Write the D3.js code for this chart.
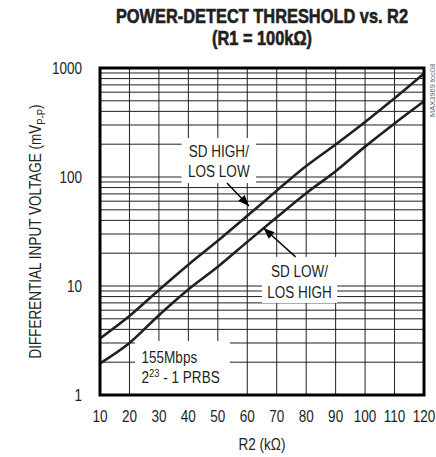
<!DOCTYPE html>
<html><head><meta charset="utf-8">
<script src="https://cdn.jsdelivr.net/npm/d3@7"></script>
<style>
html,body{margin:0;padding:0;background:#fff;}
svg{display:block;}
text{font-family:"Liberation Sans",Arial,sans-serif;fill:#231f20;}
</style></head>
<body>
<svg id="c" width="436" height="457"></svg>
<script>
// ---- data ----
const r2 = [10,20,30,40,50,60,70,80,90,100,110,120];
const sdHigh = [3.3,5.3,9.2,15.7,26,44,75,126,199,320,527,890];
const sdLow  = [1.95,3.0,5.4,9.3,15,25.4,42.7,71,113,190,310,495];
const xTicks = [10,20,30,40,50,60,70,80,90,100,110,120];
const yTicks = [1,10,100,1000];
const titleLines = ["POWER-DETECT THRESHOLD vs. R2","(R1 = 100k\u03A9)"];

const svg = d3.select("#c");
const L=100,R=424,T=68,B=395;
const x = d3.scaleLinear().domain([10,120]).range([L,R]);
const y = d3.scaleLog().domain([1,1000]).range([B,T]);
const SX=0.82; // condensed look

function txt(px,py,size,anchor,extra){
  return svg.append("text").attr("transform",`translate(${px},${py})${extra||""} scale(${SX},1)`)
    .attr("text-anchor",anchor||"start").attr("font-size",size);
}

// grid
const g = svg.append("g");
const minors=[];
[1,10,100].forEach(d=>{for(let k=1;k<=9;k++) minors.push(d*k);});
minors.push(1000);
g.selectAll("line.h").data(minors).enter().append("line")
 .attr("x1",L).attr("x2",R).attr("y1",d=>y(d)).attr("y2",d=>y(d))
 .attr("stroke","#231f20").attr("stroke-width",1);
g.selectAll("line.v").data(xTicks).enter().append("line")
 .attr("y1",T).attr("y2",B).attr("x1",d=>x(d)).attr("x2",d=>x(d))
 .attr("stroke","#231f20").attr("stroke-width",1);

// label boxes (white masks) in data coords
const boxes = [
  {x0:37.7,x1:63.0,y0:228,y1:88},
  {x0:65.0,x1:90.5,y0:18.5,y1:6.98},
  {x0:21.9,x1:54.1,y0:3.13,y1:1}
];
svg.selectAll("rect.box").data(boxes).enter().append("rect")
 .attr("x",d=>x(d.x0)).attr("y",d=>y(d.y0))
 .attr("width",d=>x(d.x1)-x(d.x0)).attr("height",d=>y(d.y1)-y(d.y0))
 .attr("fill","#fff");

// curves
const line = d3.line().x(d=>x(d[0])).y(d=>y(d[1])).curve(d3.curveMonotoneX);
[sdHigh,sdLow].forEach(s=>{
  svg.append("path").datum(r2.map((v,i)=>[v,s[i]])).attr("d",line)
   .attr("fill","none").attr("stroke","#231f20").attr("stroke-width",2.6);
});

// frame
svg.append("rect").attr("x",L).attr("y",T).attr("width",R-L).attr("height",B-T)
 .attr("fill","none").attr("stroke","#000").attr("stroke-width",3);

// arrows
svg.append("defs").append("marker").attr("id","ah").attr("viewBox","0 0 10 10")
 .attr("refX",10).attr("refY",5).attr("markerWidth",13).attr("markerHeight",11)
 .attr("markerUnits","userSpaceOnUse").attr("orient","auto")
 .append("path").attr("d","M0,1 L10,5 L0,9 z").attr("fill","#000");
const arrows=[
  {x0:53.1,y0:88.1,x1:60.6,y1:54.2},
  {x0:76.4,y0:18.5,x1:65.5,y1:34.0}
];
svg.selectAll("line.ar").data(arrows).enter().append("line")
 .attr("x1",d=>x(d.x0)).attr("y1",d=>y(d.y0)).attr("x2",d=>x(d.x1)).attr("y2",d=>y(d.y1))
 .attr("stroke","#000").attr("stroke-width",1.4).attr("marker-end","url(#ah)");

// labels
const fs=16.5;
const b0=boxes[0],b1=boxes[1],b2=boxes[2];
["SD HIGH/","LOS LOW"].forEach((t,i)=>txt((x(b0.x0)+x(b0.x1))/2, y(b0.y0)+18.7+i*20,fs,"middle").text(t));
["SD LOW/","LOS HIGH"].forEach((t,i)=>txt((x(b1.x0)+x(b1.x1))/2, y(b1.y0)+20+i*21,fs,"middle").text(t));
txt(x(b2.x0)+6.5, y(b2.y0)+22.3, fs).text("155Mbps");
const t3=txt(x(b2.x0)+6.5, y(b2.y0)+42.3, fs);
t3.append("tspan").text("2");
t3.append("tspan").attr("dy",-6).attr("font-size",11.5).text("23");
t3.append("tspan").attr("dy",6).text(" - 1 PRBS");

// axes tick labels
yTicks.forEach(d=>txt(82, y(d)+6, fs, "end").text(d));
xTicks.forEach(d=>txt(x(d), 422, fs, "middle").text(d));

// axis titles
txt((L+R)/2, 450, fs, "middle").text("R2 (k\u03A9)");
const yt=txt(41,(T+B)/2,fs,"middle"," rotate(-90)");
yt.append("tspan").text("DIFFERENTIAL INPUT VOLTAGE (mV");
yt.append("tspan").attr("dy",3.5).attr("font-size",11.5).text("P-P");
yt.append("tspan").attr("dy",-3.5).text(")");

// title
titleLines.forEach((t,i)=>txt((L+R)/2, 23+i*22, 20, "middle").attr("font-weight","bold")
  .attr("stroke","#231f20").attr("stroke-width",0.6).text(t));

// side note
svg.append("text").attr("transform",`translate(435,117) rotate(-90)`)
 .attr("font-size",7.5).style("fill","#666").text("MAX3969 toc08");
</script>
</body></html>
